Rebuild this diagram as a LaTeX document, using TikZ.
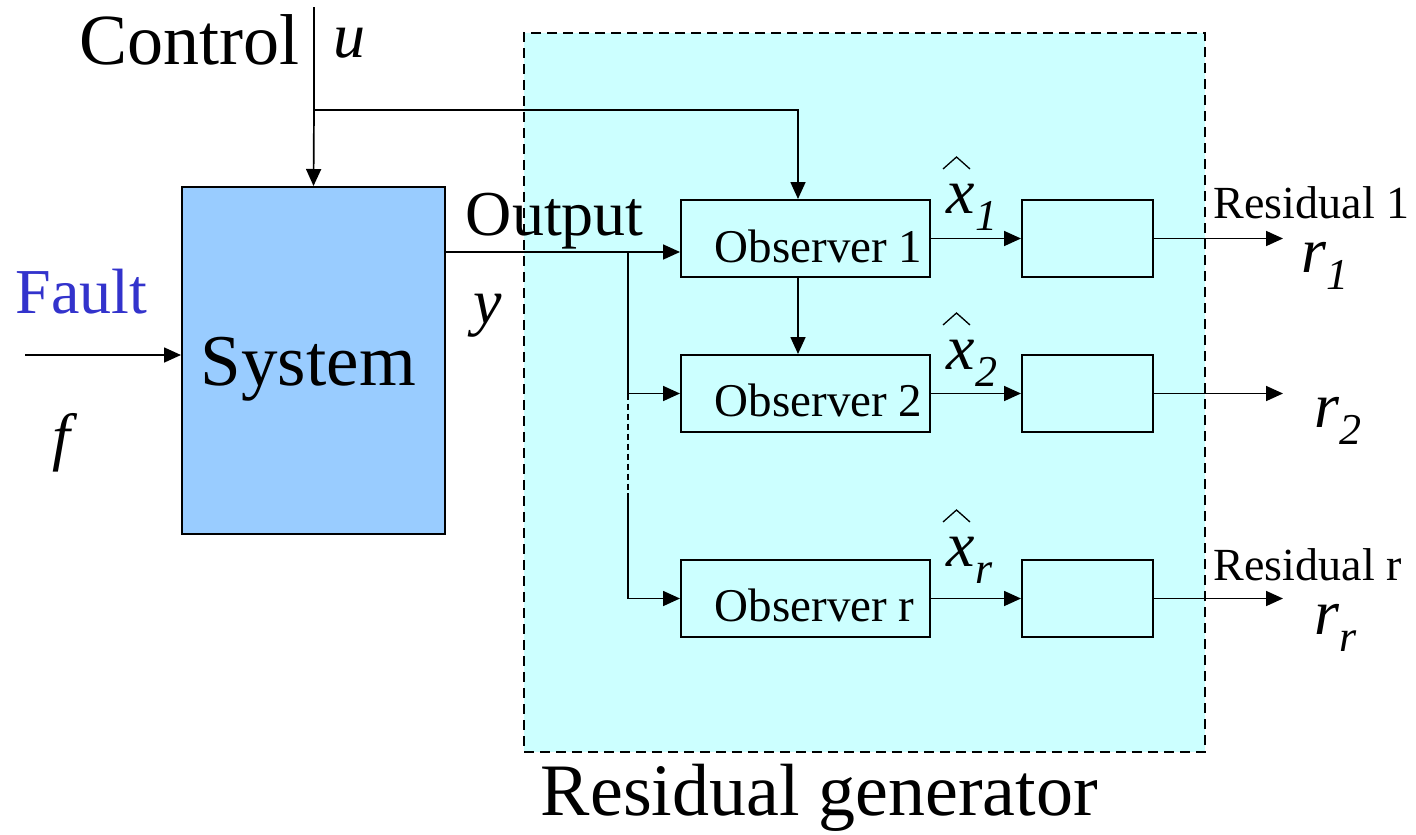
\documentclass[tikz,border=0pt]{standalone}
\usepackage{fontspec}
\setmainfont{Liberation Serif}
\usetikzlibrary{arrows.meta}
\definecolor{gencyan}{HTML}{CCFFFF}
\definecolor{sysblue}{HTML}{99CCFF}
\definecolor{faultblue}{HTML}{3333CC}
\newcommand{\fsz}[1]{\fontsize{#1}{#1}\selectfont}
\newcommand{\mvar}[2]{{\fsz{64}\itshape #1\raisebox{-17pt}{\fsz{44}\itshape #2}}}
\begin{document}
\begin{tikzpicture}[x=1pt,y=-1pt,
  line width=1.7pt,
  blk/.style={draw=black, line width=2pt, inner sep=0pt},
  obsbox/.style={blk, fill=gencyan, minimum width=249pt, minimum height=77pt},
  resbox/.style={blk, fill=gencyan, minimum width=131pt, minimum height=77pt},
  arr/.style={-{Triangle[length=17pt,width=15pt]}},
  txt/.style={inner sep=0pt, anchor=base west},
  hatline/.style={line width=1.3pt, line join=miter}]
  \useasboundingbox (0,0) rectangle (1416,835);

  % residual generator region
  \node[draw=black, dash pattern=on 10pt off 6pt, line width=1.8pt, fill=gencyan,
        minimum width=681pt, minimum height=719pt, inner sep=0pt]
        (gen) at (864.5,392.5) {};
  \node[txt] (genlbl) at (540,815) {\fsz{74}Residual generator};

  % plant
  \node[blk, fill=sysblue, minimum width=263pt, minimum height=347pt] (sys) at (313.5,360.5) {};
  \node[txt] (syslbl) at (200,385) {\fsz{73}System};

  % observers and residual blocks
  \node[obsbox] (o1) at (805.5,238.5) {};
  \node[obsbox] (o2) at (805.5,393.5) {};
  \node[obsbox] (or) at (805.5,598.5) {};
  \node[txt] (o1lbl) at (714,262) {\fsz{47}Observer 1};
  \node[txt] (o2lbl) at (714,416) {\fsz{47}Observer 2};
  \node[txt] (orlbl) at (714,621) {\fsz{47}Observer r};
  \node[resbox] (e1) at (1087.5,238.5) {};
  \node[resbox] (e2) at (1087.5,393.5) {};
  \node[resbox] (er) at (1087.5,598.5) {};

  % control input
  \coordinate (ctop) at (314,7);
  \coordinate (cj) at (314,110);
  \coordinate (cr) at (798,110);
  \draw (ctop) -- (cj);
  \draw[arr] (cj) -- (sys.north);
  \draw[arr] (cj) -- (cr) -- (cr |- o1.north);
  \node[txt, anchor=base east] (ctl) at (300,64) {\fsz{72}Control};
  \node[txt] (u) at (333,57) {\fsz{64}\itshape u};

  % fault input
  \coordinate (fin) at (25,355);
  \draw[arr] (fin) -- (sys.west |- fin);
  \node[txt] (flt) at (15,313) {\color{faultblue}\fsz{64}Fault};
  \node[txt] (f) at (52,458) {\fsz{64}\itshape f};

  % measured output and its branches
  \coordinate (yj) at (628,252);
  \coordinate (yd1) at (628,493);
  \draw (sys.east |- yj) -- (yj);
  \draw[arr] (yj) -- (o1.west |- yj);
  \draw[arr] (yj) -- (yj |- o2.west) -- (o2.west);
  \draw[line width=1.4pt, dash pattern=on 6pt off 4pt] (yj |- o2.west) -- (yd1);
  \draw[arr] (yd1) -- (yd1 |- or.west) -- (or.west);
  \node[txt] (out) at (465,235) {\fsz{64}Output};
  \node[txt] (y) at (473,323) {\fsz{64}\itshape y};

  % observer 1 feeds observer 2
  \draw[arr] (cr |- o1.south) -- (cr |- o2.north);

  % state estimates
  \draw[arr] (o1.east) -- (e1.west);
  \draw[arr] (o2.east) -- (e2.west);
  \draw[arr] (or.east) -- (er.west);
  \node[txt] (xh1) at (946,213) {\mvar{x}{1}};
  \node[txt] (xh2) at (946,369) {\mvar{x}{2}};
  \node[txt] (xhr) at (946,566) {\mvar{x}{r}};
  \draw[hatline] (943,169) -- (956.5,157) -- (970,169);
  \draw[hatline] (943,325) -- (956.5,313) -- (970,325);
  \draw[hatline] (943,522) -- (956.5,510) -- (970,522);

  % residual outputs
  \coordinate (r1end) at (1283,238.5);
  \coordinate (r2end) at (1283,393.5);
  \coordinate (rrend) at (1283,598.5);
  \draw[arr] (e1.east) -- (r1end);
  \draw[arr] (e2.east) -- (r2end);
  \draw[arr] (er.east) -- (rrend);
  \node[txt] (res1) at (1213,218) {\fsz{46}Residual 1};
  \node[txt] (resr) at (1213,580) {\fsz{46}Residual r};
  \node[txt] (r1) at (1301,272) {\mvar{r}{1}};
  \node[txt] (r2) at (1314,427) {\mvar{r}{2}};
  \node[txt] (rr) at (1314,634) {\mvar{r}{r}};
\end{tikzpicture}
\end{document}
